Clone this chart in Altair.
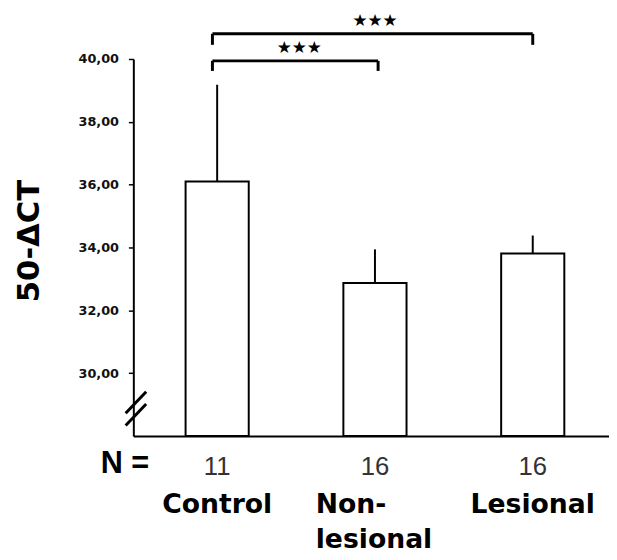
import altair as alt
import pandas as pd

# ---- data ----
groups = ["Control", "Non-lesional", "Lesional"]
group_pos = [1, 2, 3]
means = [36.10, 32.87, 33.81]
err_tops = [39.18, 33.94, 34.38]
n_values = ["11", "16", "16"]
y_ticks = [30, 32, 34, 36, 38, 40]

# significance brackets
brk_left = [0.97, 0.97]
brk_right = [3.0, 2.02]
brk_level = [40.80, 39.94]
brk_end = [40.45, 39.62]
star_level = [41.20, 40.36]
star_x = [2.0, 1.52]
star_text = ["★★★", "★★★"]

# axis break marks
brk_x1 = [0.42, 0.42]
brk_x2 = [0.55, 0.55]
brk_y1 = [28.72, 28.33]
brk_y2 = [29.41, 29.02]

Y_MIN, Y_MAX = 28, 40
X_MIN, X_MAX = 0.5, 3.452
W, H = 482, 382

df = pd.DataFrame({"group": groups, "pos": group_pos, "mean": means,
                   "top": err_tops, "n": n_values, "base": [Y_MIN] * 3})

xs = alt.Scale(domain=[X_MIN, X_MAX], nice=False, zero=False)
ys = alt.Scale(domain=[Y_MIN, Y_MAX], nice=False, zero=False)

base = alt.Chart(df)

bars = base.mark_bar(size=64, fill="white", stroke="black", strokeWidth=2).encode(
    x=alt.X("pos:Q", scale=xs, axis=alt.Axis(title=None, labels=False, ticks=False,
                                              grid=False, domainColor="black", domainWidth=2)),
    y=alt.Y("mean:Q", scale=ys,
            axis=alt.Axis(values=y_ticks, grid=False, domainColor="black", domainWidth=2,
                          tickColor="black", tickSize=5, tickWidth=1.5,
                          labelExpr="replace(format(datum.value, '.2f'), '.', ',')",
                          labelFont="DejaVu Sans", labelFontWeight="bold", labelFontSize=13,
                          labelColor="#111", labelPadding=10,
                          title="50-ΔCT", titleFont="DejaVu Sans", titleFontWeight="bold",
                          titleFontSize=31, titleColor="black", titleAngle=-90,
                          titleX=-105, titleY=184, titleAlign="center", titleBaseline="middle")),
    y2="base:Q",
)

err = base.mark_rule(color="black", strokeWidth=2).encode(
    x="pos:Q", y="mean:Q", y2="top:Q")

bdf = pd.DataFrame({"l": brk_left, "r": brk_right, "lev": brk_level, "end": brk_end,
                    "sl": star_level, "sx": star_x, "st": star_text})
bb = alt.Chart(bdf)
brk_h = bb.mark_rule(color="black", strokeWidth=3).encode(x="l:Q", x2="r:Q", y="lev:Q")
brk_l = bb.mark_rule(color="black", strokeWidth=3).encode(x="l:Q", y="lev:Q", y2="end:Q")
brk_r = bb.mark_rule(color="black", strokeWidth=3).encode(x="r:Q", y="lev:Q", y2="end:Q")
stars = bb.mark_text(font="DejaVu Sans", fontSize=17, fontWeight="bold", color="black",
                     baseline="middle").encode(x="sx:Q", y="sl:Q", text="st:N")

axbrk = alt.Chart(pd.DataFrame({"x1": brk_x1, "x2": brk_x2, "y1": brk_y1, "y2": brk_y2})).mark_rule(
    color="black", strokeWidth=3).encode(x="x1:Q", x2="x2:Q", y="y1:Q", y2="y2:Q")

ntext = base.mark_text(font="Liberation Sans", fontSize=26, color="#333",
                       baseline="alphabetic").encode(
    x="pos:Q", y=alt.value(422), text="n:N")

nlabel = alt.Chart(pd.DataFrame({"t": ["N ="]})).mark_text(
    font="Liberation Sans", fontSize=31, fontWeight="bold", align="left",
    baseline="alphabetic", color="black").encode(
    x=alt.value(-33), y=alt.value(420), text="t:N")

cat_center = base.transform_filter("datum.group != 'Non-lesional'").mark_text(
    font="DejaVu Sans", fontSize=27, fontWeight="bold", color="black",
    baseline="alphabetic").encode(x="pos:Q", y=alt.value(460), text="group:N")

cat_left = base.transform_filter("datum.group == 'Non-lesional'").transform_calculate(
    lab="['Non-', 'lesional']").mark_text(
    font="DejaVu Sans", fontSize=27, fontWeight="bold", color="black", align="left",
    baseline="alphabetic", dx=-60, lineHeight=36).encode(
    x="pos:Q", y=alt.value(460), text="lab:N")

chart = alt.layer(bars, err, brk_h, brk_l, brk_r, stars, axbrk, ntext, nlabel,
                  cat_center, cat_left).properties(
    width=W, height=H,
    background="white",
    autosize=alt.AutoSizeParams(type="none"),
    padding={"left": 127, "top": 48, "right": 0, "bottom": 120},
).configure_view(strokeWidth=0).configure_axis(grid=False)

chart.save("out.html", embed_options={"renderer": "svg", "actions": False})
